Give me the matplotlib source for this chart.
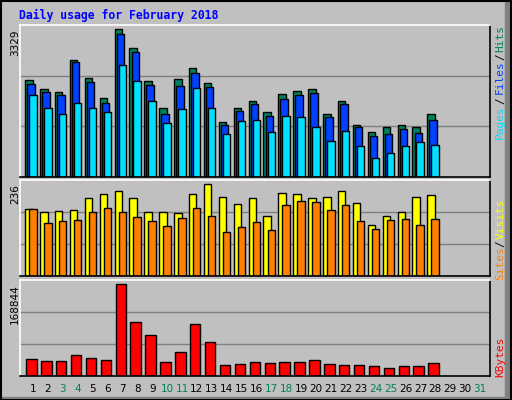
import matplotlib
matplotlib.use("Agg")
import matplotlib.pyplot as plt
from matplotlib.patches import Rectangle
import numpy as np

days = list(range(1, 32))
weekend = [3, 4, 10, 11, 17, 18, 24, 25, 31]

hits = [2177, 1974, 1906, 2629, 2222, 1771, 3329, 2900, 2155, 1545, 2200, 2448, 2109, 1229,
        1545, 1703, 1454, 1861, 1929, 1974, 1409, 1703, 1183, 1025, 1116, 1183, 1116, 1409]
files = [2087, 1906, 1838, 2584, 2132, 1658, 3216, 2810, 2064, 1409, 2042, 2335, 2019, 1161,
         1477, 1635, 1364, 1748, 1838, 1884, 1342, 1635, 1116, 935, 980, 1093, 1003, 1296]
pages = [1838, 1545, 1409, 1658, 1545, 1454, 2516, 2155, 1703, 1206, 1522, 1997, 1545, 958,
         1251, 1296, 1025, 1364, 1342, 1116, 822, 1048, 709, 438, 551, 709, 800, 732]
visits = [172, 164, 167, 169, 200, 210, 218, 200, 164, 164, 162, 210, 236, 203,
          185, 200, 156, 213, 210, 200, 203, 218, 187, 131, 156, 164, 203, 208]
sites = [172, 136, 141, 144, 164, 174, 164, 151, 141, 128, 149, 174, 156, 115,
         126, 139, 118, 182, 192, 190, 169, 182, 141, 121, 144, 146, 131, 146]
kbytes = [30194, 26497, 26497, 37588, 32042, 28345, 168844, 98592, 74560, 24648, 43134,
          94895, 61620, 19102, 20951, 24648, 22799, 24648, 24648, 28345, 20951, 19102,
          19102, 17254, 13556, 17254, 17254, 22799]

BG = '#C0C0C0'
GREEN = '#00805C'
MONO = 'DejaVu Sans Mono'

fig = plt.figure(figsize=(5.12, 4.0), dpi=100)
fig.patch.set_facecolor(BG)
# outer frame + shadow
fig.add_artist(Rectangle((0.986, 0.0), 0.014, 0.995, transform=fig.transFigure, color='#808080'))
fig.add_artist(Rectangle((0.0, 0.0), 1.0, 0.008, transform=fig.transFigure, color='#808080'))
fig.add_artist(Rectangle((0.001, 0.001), 0.998, 0.997, transform=fig.transFigure,
                         fill=False, ec='black', lw=1.5))

fig.text(0.037, 0.962, 'Daily usage for February 2018', color='#0000FF', family=MONO,
         weight='bold', fontsize=8.3, va='center')


def make_panel(rect, top):
    ax = fig.add_axes(rect)
    ax.set_facecolor(BG)
    ax.set_xlim(0.13, 31.72)
    ax.set_ylim(0, top)
    for g in (top / 3, 2 * top / 3):
        ax.axhline(g, color='#808080', lw=1, zorder=0)
    ax.set_xticks([])
    ax.set_yticks([])
    for s in ax.spines.values():
        s.set_color('black')
        s.set_linewidth(1.2)
    ax.spines['top'].set_color('white')
    ax.spines['left'].set_color('white')
    return ax


def bars(ax, vals, off, width, color):
    x = np.arange(1, len(vals) + 1) + off
    ax.bar(x, vals, width=width, color=color, edgecolor='black', linewidth=1, zorder=2)


ax1 = make_panel([0.039, 0.5575, 0.919, 0.38], 3426)
bars(ax1, hits, -0.27, 0.5, GREEN)
bars(ax1, files, -0.13, 0.5, '#0040FF')
bars(ax1, pages, 0.0, 0.5, '#00E0FF')

ax2 = make_panel([0.039, 0.309, 0.919, 0.24], 246)
bars(ax2, visits, -0.27, 0.5, '#FFFF00')
bars(ax2, sites, 0.0, 0.5, '#FF8000')

ax3 = make_panel([0.039, 0.061, 0.919, 0.2385], 176230)
bars(ax3, kbytes, -0.1, 0.7, '#FF0000')

# max labels on the left
for y, t in [(0.925, '3329'), (0.54, '236'), (0.29, '168844')]:
    fig.text(0.029, y, t, rotation=90, ha='center', va='top', family='DejaVu Sans',
             fontsize=7.5)

# right-side legends (bottom to top)
def side(parts):
    for y, t, c in parts:
        fig.text(0.977, 1 - y / 400, t, rotation=90, ha='center', va='center',
                 color=c, family=MONO, fontsize=8)

side([(122, 'Pages', '#00E0FF'), (101, '/', 'black'), (77, 'Files', '#0040FF'),
      (57, '/', 'black'), (39, 'Hits', GREEN)])
side([(263, 'Sites', '#FF8000'), (244, '/', 'black'), (219, 'Visits', '#FFFF00')])
side([(357, 'KBytes', '#FF0000')])

# day labels
for d in days:
    xpix = 33 + (d - 1) * 14.9
    fig.text(xpix / 512, 1 - 389 / 400, str(d), ha='center', va='center',
             color=GREEN if d in weekend else 'black', family='DejaVu Sans', fontsize=7.5)

fig.savefig('out.png', dpi=100, facecolor=BG)
